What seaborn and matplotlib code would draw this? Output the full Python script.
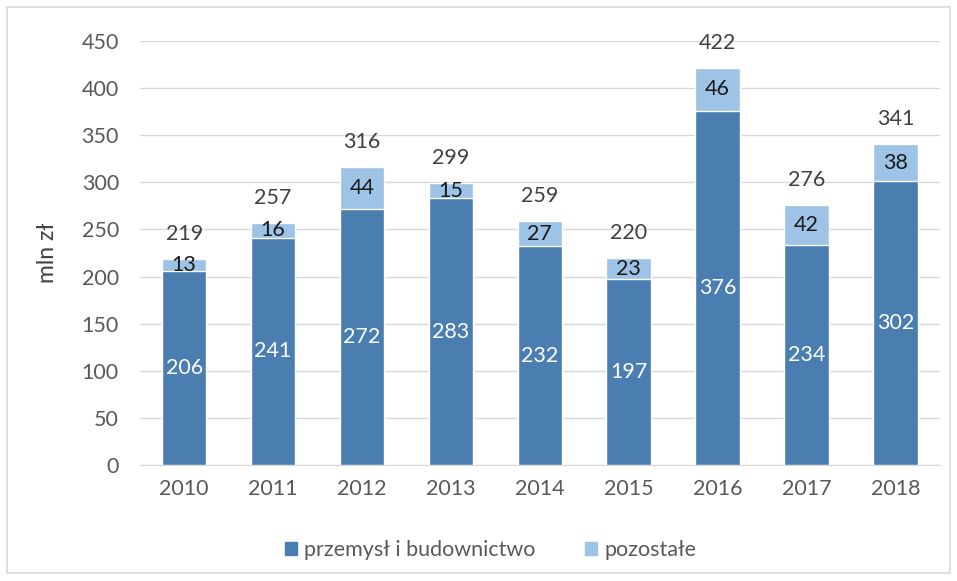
import pandas as pd
import matplotlib.pyplot as plt
import seaborn as sns
from matplotlib.patches import Rectangle

# dane
years = ["2010", "2011", "2012", "2013", "2014", "2015", "2016", "2017", "2018"]
przemysl = [206, 241, 272, 283, 232, 197, 376, 234, 302]
pozostale = [13, 16, 44, 15, 27, 23, 46, 42, 38]
totals = [219, 257, 316, 299, 259, 220, 422, 276, 341]

dark = "#4a7eb0"
light = "#9dc3e6"
fs = 15.5

df = pd.DataFrame({"rok": years, "przemysl": przemysl, "pozostale": pozostale, "suma": totals})

sns.set_style("white")
plt.rcParams["font.family"] = ["Lato", "DejaVu Sans"]

fig = plt.figure(figsize=(9.57, 5.81), dpi=100)
ax = fig.add_axes([0.146, 0.2, 0.836, 0.729])

# obramowanie wykresu
fig.patches.append(Rectangle((7 / 957, 8 / 581), 943 / 957, 566 / 581, transform=fig.transFigure,
                             fill=False, edgecolor="#d9d9d9", linewidth=1.2))

# słupki: suma (jasne) pod spodem, przemysł (ciemne) na wierzchu
sns.barplot(data=df, x="rok", y="suma", color=light, width=0.5, saturation=1, ax=ax, zorder=2)
sns.barplot(data=df, x="rok", y="przemysl", color=dark, width=0.5, saturation=1, ax=ax, zorder=3)

ax.set_ylim(0, 450)
ax.set_yticks(range(0, 451, 50))
ax.yaxis.grid(True, color="#d9d9d9", linewidth=1)
ax.set_axisbelow(True)
sns.despine(ax=ax, left=True, right=True, top=True)
ax.spines["bottom"].set_color("#d9d9d9")
ax.tick_params(axis="y", length=0, labelsize=fs, colors="#595959", pad=15)
ax.tick_params(axis="x", length=0, labelsize=fs, colors="#595959", pad=10)
ax.set_xlabel("")
ax.set_ylabel("mln zł", fontsize=fs + 1, color="#404040", labelpad=17)

# etykiety
for i in range(len(years)):
    ax.text(i, przemysl[i] / 2, str(przemysl[i]), ha="center", va="center", fontsize=fs, color="white", zorder=4)
    ax.text(i, przemysl[i] + pozostale[i] / 2, str(pozostale[i]), ha="center", va="center", fontsize=fs,
            color="#1a1a1a", zorder=4)
    ax.annotate(str(totals[i]), (i, totals[i]), xytext=(0, 25), textcoords="offset pixels",
                ha="center", va="center", fontsize=fs, color="#404040")

# legenda
handles = [Rectangle((0, 0), 1, 1, color=dark), Rectangle((0, 0), 1, 1, color=light)]
fig.legend(handles, ["przemysł i budownictwo", "pozostałe"], loc="center", bbox_to_anchor=(0.513, 0.053),
           ncol=2, frameon=False, fontsize=fs, labelcolor="#595959", handlelength=0.55, handleheight=0.55,
           handletextpad=0.35, columnspacing=2.3)

fig.savefig("out.png", dpi=100)
